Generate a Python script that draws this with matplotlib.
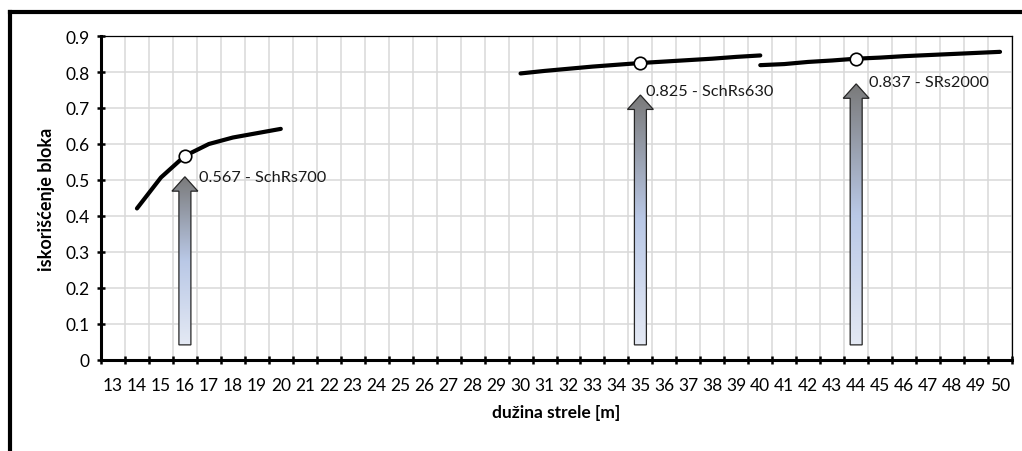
import numpy as np
import matplotlib
matplotlib.use("Agg")
from matplotlib import pyplot as plt
from matplotlib.patches import FancyArrow
from matplotlib.lines import Line2D
from matplotlib.colors import LinearSegmentedColormap
from matplotlib.ticker import FuncFormatter

plt.rcParams['font.family'] = ['Lato', 'DejaVu Sans']

# boom length categories on the x axis
categories = list(range(13, 51))

# three machine curves (block utilisation vs boom length)
x1 = [14, 15, 16, 17, 18, 19, 20]
y1 = [0.421, 0.507, 0.567, 0.600, 0.618, 0.630, 0.642]

x2 = [30, 31, 32, 33, 34, 35, 36, 37, 38, 39, 40]
y2 = [0.796, 0.803, 0.809, 0.815, 0.820, 0.825, 0.829, 0.833, 0.837, 0.842, 0.846]

x3 = [40, 41, 42, 43, 44, 45, 46, 47, 48, 49, 50]
y3 = [0.819, 0.822, 0.828, 0.832, 0.837, 0.840, 0.844, 0.847, 0.850, 0.853, 0.856]

# chosen points and their labels
sel_x = [16, 35, 44]
sel_y = [0.567, 0.825, 0.837]
sel_labels = ["0.567 - SchRs700", "0.825 - SchRs630", "0.837 - SRs2000"]
arrow_tops = [0.509, 0.736, 0.767]
arrow_base = 0.042
label_offsets = [(10, 0), (4, 3), (9, 1)]  # points, from arrow tip

fig = plt.figure(figsize=(10.22, 4.52), dpi=100)
ax = fig.add_axes([101 / 1022, 1 - 361 / 452, 911 / 1022, 324 / 452])

# outer chart border (only left and top visible)
fig.add_artist(Line2D([10 / 1022, 10 / 1022], [0, 1 - 12.5 / 452], transform=fig.transFigure,
                      color='black', lw=3, solid_capstyle='projecting'))
fig.add_artist(Line2D([10 / 1022, 1], [1 - 12.5 / 452, 1 - 12.5 / 452], transform=fig.transFigure,
                      color='black', lw=3, solid_capstyle='projecting'))

for xs, ys in [(x1, y1), (x2, y2), (x3, y3)]:
    ax.plot(xs, ys, color='black', lw=3, solid_capstyle='round', zorder=4)

ax.plot(sel_x, sel_y, 'o', ms=9, mfc='white', mec='black', mew=1.2, zorder=5)

# gradient arrows pointing up at the chosen points
cmap = LinearSegmentedColormap.from_list('arr', ['#e4e9f4', '#b9c8e6', '#7a7a7a'])
grad = np.linspace(0, 1, 256).reshape(-1, 1)
for xc, top, lab, off in zip(sel_x, arrow_tops, sel_labels, label_offsets):
    arr = FancyArrow(xc, arrow_base, 0, top - arrow_base, width=0.5, head_width=1.08,
                     head_length=0.04, length_includes_head=True,
                     facecolor='none', edgecolor='#262626', lw=0.9, zorder=3)
    ax.add_patch(arr)
    im = ax.imshow(grad, cmap=cmap, origin='lower', aspect='auto',
                   extent=[xc - 0.6, xc + 0.6, arrow_base, top], zorder=2)
    im.set_clip_path(arr)
    ax.annotate(lab, (xc, top), xytext=off, textcoords='offset points',
                ha='left', va='center', fontsize=11.7, color='#1a1a1a', zorder=6)

ax.set_xlim(categories[0] - 0.5, categories[-1] + 0.5)
ax.set_ylim(0, 0.9)

# category axis: ticks/grid between categories, labels at centres
ax.set_xticks(np.arange(categories[0] - 0.5, categories[-1] + 1, 1))
ax.set_xticklabels([])
ax.set_xticks(categories, minor=True)
ax.set_xticklabels([str(c) for c in categories], minor=True)
ax.tick_params(axis='x', which='minor', length=0, pad=12, labelsize=12.5)
ax.tick_params(axis='x', which='major', direction='inout', length=6, width=1.8)

ax.set_yticks(np.arange(0, 0.91, 0.1))
ax.yaxis.set_major_formatter(FuncFormatter(lambda v, p: '0' if abs(v) < 1e-9 else f'{v:.1f}'))
ax.tick_params(axis='y', direction='inout', length=6, width=1.8, pad=5, labelsize=12.5)

ax.grid(True, which='major', color='#d9d9d9', lw=1.1)
ax.set_axisbelow(True)

for s in ['left', 'bottom']:
    ax.spines[s].set_linewidth(2.2)
for s in ['top', 'right']:
    ax.spines[s].set_linewidth(0.9)

ax.set_xlabel("dužina strele [m]", fontsize=12.5, fontweight='bold', labelpad=8)
ax.set_ylabel("iskorišćenje bloka", fontsize=13, fontweight='bold', labelpad=8)

fig.savefig("out.png", dpi=100)
